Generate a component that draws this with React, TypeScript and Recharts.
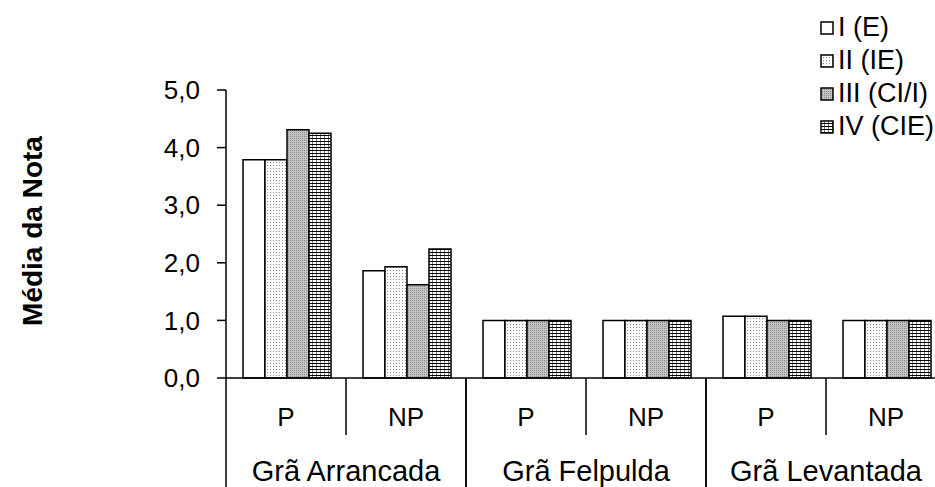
import { BarChart, Bar, XAxis, YAxis, Legend } from "recharts";

const categories = ["P", "NP", "P", "NP", "P", "NP"];
const groups = [
  "Grã Arrancada",
  "Grã Arrancada",
  "Grã Felpulda",
  "Grã Felpulda",
  "Grã Levantada",
  "Grã Levantada",
];
const serieI = [3.79, 1.86, 1.0, 1.0, 1.07, 1.0];
const serieII = [3.79, 1.93, 1.0, 1.0, 1.07, 1.0];
const serieIII = [4.31, 1.62, 1.0, 1.0, 1.0, 1.0];
const serieIV = [4.25, 2.24, 1.0, 1.0, 1.0, 1.0];
const yTicks = [0, 1, 2, 3, 4, 5];

const series = [
  { key: "s1", name: "I (E)", fill: "#ffffff" },
  { key: "s2", name: "II (IE)", fill: "url(#dotsLight)" },
  { key: "s3", name: "III (CI/I)", fill: "url(#dotsGray)" },
  { key: "s4", name: "IV (CIE)", fill: "url(#hatch)" },
];

const data = categories.map((c, i) => ({
  id: i,
  cat: c,
  group: groups[i],
  s1: serieI[i],
  s2: serieII[i],
  s3: serieIII[i],
  s4: serieIV[i],
}));

const FONT = '"Liberation Sans", Arial, sans-serif';
const W = 960;
const H = 487;
const M = { top: 90, right: 14, bottom: 0, left: 0 };
const Y_W = 226;
const X_H = 109;
const band = (W - M.left - M.right - Y_W) / categories.length;

function CatTick(props: any) {
  const { x, y, index } = props;
  const left = x - band / 2;
  const right = x + band / 2;
  const first = index % 2 === 0;
  return (
    <g>
      <text
        x={x}
        y={y + 48}
        textAnchor="middle"
        fontSize={26}
        fontFamily={FONT}
        fill="#000"
      >
        {categories[index]}
      </text>
      {first ? (
        <>
          <line x1={left} y1={y} x2={left} y2={y + X_H} stroke="#000" strokeWidth={1.5} />
          <line x1={right} y1={y} x2={right} y2={y + 57} stroke="#000" strokeWidth={1.5} />
          <text
            x={right}
            y={y + 103}
            textAnchor="middle"
            fontSize={29}
            fontFamily={FONT}
            fill="#000"
          >
            {groups[index]}
          </text>
        </>
      ) : (
        <line x1={right} y1={y} x2={right} y2={y + X_H} stroke="#000" strokeWidth={1.5} />
      )}
    </g>
  );
}

function YTitle(props: any) {
  const vb = props.viewBox || { y: M.top, height: 288 };
  const cx = 42;
  const cy = vb.y + vb.height / 2 - 3;
  return (
    <text
      x={cx}
      y={cy}
      transform={`rotate(-90, ${cx}, ${cy})`}
      textAnchor="middle"
      fontSize={28}
      fontWeight="bold"
      fontFamily={FONT}
      fill="#000"
    >
      Média da Nota
    </text>
  );
}

function LegendBox() {
  return (
    <div style={{ fontFamily: FONT, fontSize: 27, color: "#000" }}>
      {series.map((s) => (
        <div
          key={s.key}
          style={{ display: "flex", alignItems: "center", height: 33 }}
        >
          <svg width={16} height={14} style={{ marginRight: 2 }}>
            <rect x={1} y={1} width={12} height={12} fill={s.fill} stroke="#000" strokeWidth={1.5} />
          </svg>
          <span>{s.name}</span>
        </div>
      ))}
    </div>
  );
}

export default function App() {
  return (
    <div
      style={{
        position: "absolute",
        left: 0,
        top: 0,
        width: 935,
        height: 487,
        overflow: "hidden",
        background: "#fff",
      }}
    >
      <BarChart
        width={W}
        height={H}
        data={data}
        margin={M}
        barGap={0}
        barCategoryGap={17}
      >
        <defs>
          <pattern id="dotsLight" patternUnits="userSpaceOnUse" width={3} height={3}>
            <rect width={3} height={3} fill="#ffffff" />
            <rect width={1} height={1} fill="#8a8a8a" />
          </pattern>
          <pattern id="dotsGray" patternUnits="userSpaceOnUse" width={2} height={2}>
            <rect width={2} height={2} fill="#c4c4c4" />
            <rect width={1} height={1} fill="#8c8c8c" />
          </pattern>
          <pattern id="hatch" patternUnits="userSpaceOnUse" width={4} height={3}>
            <rect width={4} height={3} fill="#ffffff" />
            <rect width={1} height={3} fill="#7a7a7a" />
            <rect width={4} height={1} fill="#000000" />
          </pattern>
        </defs>
        <XAxis
          dataKey="id"
          height={X_H}
          tickSize={0}
          tickMargin={0}
          tickLine={false}
          interval={0}
          axisLine={{ stroke: "#000", strokeWidth: 1.5 }}
          tick={<CatTick />}
        />
        <YAxis
          width={Y_W}
          domain={[0, 5]}
          ticks={yTicks}
          interval={0}
          tickSize={9}
          tickMargin={17}
          axisLine={{ stroke: "#000", strokeWidth: 1.5 }}
          tickLine={{ stroke: "#000", strokeWidth: 1.5 }}
          tick={{ fill: "#000", fontSize: 26, fontFamily: FONT }}
          tickFormatter={(v: number) => v.toFixed(1).replace(".", ",")}
          label={<YTitle />}
        />
        <Legend
          layout="vertical"
          align="center"
          verticalAlign="middle"
          wrapperStyle={{ top: 11, left: 820, width: 140 }}
          content={<LegendBox />}
        />
        {series.map((s) => (
          <Bar
            key={s.key}
            dataKey={s.key}
            name={s.name}
            fill={s.fill}
            stroke="#000"
            strokeWidth={1.5}
            isAnimationActive={false}
          />
        ))}
      </BarChart>
    </div>
  );
}
